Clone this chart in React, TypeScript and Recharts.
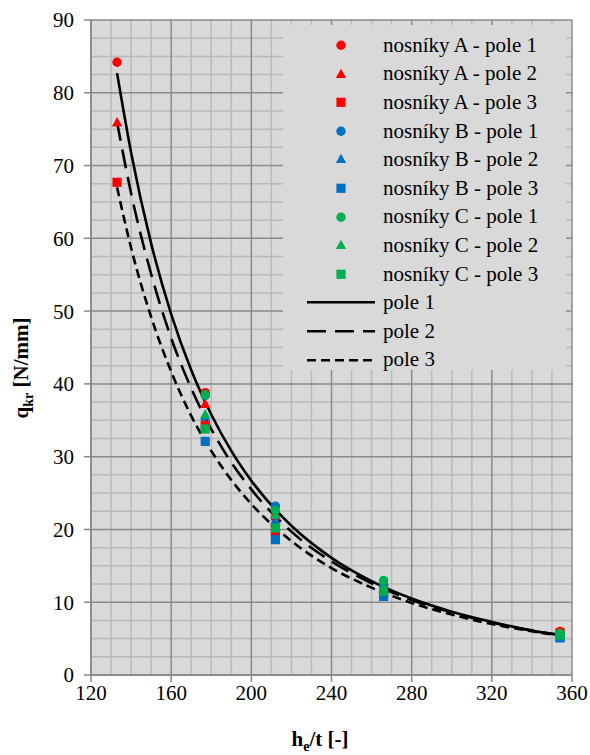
import React from "react";
import {
  ComposedChart,
  Scatter,
  Line,
  XAxis,
  YAxis,
  CartesianGrid,
  ReferenceLine,
  Legend,
  Label,
} from "recharts";

// h_e/t positions of the measured beams
const hA = [133, 177, 212, 266, 354];
const hBC = [177, 212, 266, 354];

// q_kr [N/mm]
const aPole1 = [84.2, 38.8, 21.6, 12.2, 6.0];
const aPole2 = [75.9, 37.2, 21.0, 11.8, 5.9];
const aPole3 = [67.7, 34.3, 19.8, 11.2, 5.8];
const bPole1 = [38.4, 23.2, 12.4, 5.3];
const bPole2 = [35.5, 21.2, 11.6, 5.2];
const bPole3 = [32.1, 18.6, 10.8, 5.1];
const cPole1 = [38.5, 22.6, 13.0, 5.7];
const cPole2 = [35.8, 22.0, 12.0, 5.6];
const cPole3 = [33.8, 20.2, 11.5, 5.5];

// trend curves
const fitX = [133, 140, 150, 160, 170, 180, 190, 200, 220, 240, 260, 280, 300, 320, 340, 354];
const fitPole1 = [82.7, 71.8, 59.3, 49.6, 41.9, 35.8, 30.8, 26.7, 20.5, 16.1, 12.9, 10.5, 8.7, 7.3, 6.1, 5.5];
const fitPole2 = [76.0, 66.2, 55.1, 46.3, 39.4, 33.8, 29.2, 25.5, 19.7, 15.6, 12.6, 10.3, 8.6, 7.2, 6.1, 5.5];
const fitPole3 = [67.0, 58.7, 49.2, 41.7, 35.6, 30.8, 26.8, 23.5, 18.4, 14.7, 12.0, 9.9, 8.3, 7.0, 6.0, 5.4];

const xTicks = [120, 160, 200, 240, 280, 320, 360];
const yTicks = [0, 10, 20, 30, 40, 50, 60, 70, 80, 90];
const xMinor = [130, 140, 150, 170, 180, 190, 210, 220, 230, 250, 260, 270, 290, 300, 310, 330, 340, 350];
const yMinor = [
  2.5, 5, 7.5, 12.5, 15, 17.5, 22.5, 25, 27.5, 32.5, 35, 37.5, 42.5, 45, 47.5,
  52.5, 55, 57.5, 62.5, 65, 67.5, 72.5, 75, 77.5, 82.5, 85, 87.5,
];

const RED = "#ff0000";
const BLUE = "#0070c0";
const GREEN = "#00b050";
const FONT = "Liberation Serif";

const toPts = (xs: number[], ys: number[]) => xs.map((x, i) => ({ x, y: ys[i] }));

const markers = [
  { name: "nosníky A - pole 1", color: RED, shape: "circle", data: toPts(hA, aPole1) },
  { name: "nosníky A - pole 2", color: RED, shape: "triangle", data: toPts(hA, aPole2) },
  { name: "nosníky A - pole 3", color: RED, shape: "square", data: toPts(hA, aPole3) },
  { name: "nosníky B - pole 1", color: BLUE, shape: "circle", data: toPts(hBC, bPole1) },
  { name: "nosníky B - pole 2", color: BLUE, shape: "triangle", data: toPts(hBC, bPole2) },
  { name: "nosníky B - pole 3", color: BLUE, shape: "square", data: toPts(hBC, bPole3) },
  { name: "nosníky C - pole 1", color: GREEN, shape: "circle", data: toPts(hBC, cPole1) },
  { name: "nosníky C - pole 2", color: GREEN, shape: "triangle", data: toPts(hBC, cPole2) },
  { name: "nosníky C - pole 3", color: GREEN, shape: "square", data: toPts(hBC, cPole3) },
];

const curves = [
  { name: "pole 1", dash: undefined, data: toPts(fitX, fitPole1) },
  { name: "pole 2", dash: "19 9", data: toPts(fitX, fitPole2) },
  { name: "pole 3", dash: "9 5", data: toPts(fitX, fitPole3) },
];

function Marker({ shape, color, cx, cy }: { shape: string; color: string; cx: number; cy: number }) {
  if (shape === "circle") return <circle cx={cx} cy={cy} r={4.7} fill={color} />;
  if (shape === "square") return <rect x={cx - 4.6} y={cy - 4.6} width={9.2} height={9.2} fill={color} />;
  return (
    <polygon
      points={`${cx},${cy - 5.5} ${cx + 5.2},${cy + 3.8} ${cx - 5.2},${cy + 3.8}`}
      fill={color}
    />
  );
}

function LegendBox() {
  const rowH = 28.6;
  return (
    <div
      style={{
        background: "#d9d9d9",
        width: 283,
        height: 345,
        paddingTop: 6,
        boxSizing: "border-box",
        fontFamily: FONT,
        fontSize: 21,
        color: "#000",
      }}
    >
      {markers.map((m) => (
        <div key={m.name} style={{ height: rowH, display: "flex", alignItems: "center" }}>
          <svg width={100} height={rowH}>
            <Marker shape={m.shape} color={m.color} cx={58} cy={rowH / 2} />
          </svg>
          <span style={{ lineHeight: 1 }}>{m.name}</span>
        </div>
      ))}
      {curves.map((c) => (
        <div key={c.name} style={{ height: rowH, display: "flex", alignItems: "center" }}>
          <svg width={100} height={rowH}>
            <line
              x1={24}
              x2={92}
              y1={rowH / 2}
              y2={rowH / 2}
              stroke="#000"
              strokeWidth={2.6}
              strokeDasharray={c.dash}
            />
          </svg>
          <span style={{ lineHeight: 1 }}>{c.name}</span>
        </div>
      ))}
    </div>
  );
}

export default function App() {
  const tickStyle = { fill: "#000", fontSize: 21, fontFamily: FONT };
  return (
    <div style={{ position: "absolute", left: 0, top: 0, background: "#fff", fontFamily: FONT }}>
      <ComposedChart width={590} height={755} margin={{ top: 20, right: 18, bottom: 0, left: 0 }}>
        <CartesianGrid horizontal={false} vertical={false} fill="#d9d9d9" />
        <XAxis
          type="number"
          dataKey="x"
          domain={[120, 360]}
          ticks={xTicks}
          allowDataOverflow
          height={80}
          tick={tickStyle}
          tickSize={7}
          tickMargin={3}
          stroke="#868686"
          strokeWidth={1.5}
        >
          <Label
            content={() => (
              <text x={320} y={746} textAnchor="middle" fontFamily={FONT} fontWeight="bold" fontSize={21} fill="#000">
                h
                <tspan fontSize={14} dy={5}>e</tspan>
                <tspan dy={-5}>/t [-]</tspan>
              </text>
            )}
          />
        </XAxis>
        <YAxis
          type="number"
          dataKey="y"
          domain={[0, 90]}
          ticks={yTicks}
          allowDataOverflow
          width={91}
          tick={tickStyle}
          tickSize={7}
          tickMargin={10}
          stroke="#868686"
          strokeWidth={1.5}
        >
          <Label
            content={() => (
              <text
                x={28}
                y={368}
                transform="rotate(-90 28 368)"
                textAnchor="middle"
                fontFamily={FONT}
                fontWeight="bold"
                fontSize={21}
                fill="#000"
              >
                q
                <tspan fontSize={14} dy={5}>kr</tspan>
                <tspan dy={-5}> [N/mm]</tspan>
              </text>
            )}
          />
        </YAxis>
        {xMinor.map((v) => (
          <ReferenceLine key={"xm" + v} x={v} stroke="#b9b9b9" strokeWidth={1.5} />
        ))}
        {yMinor.map((v) => (
          <ReferenceLine key={"ym" + v} y={v} stroke="#b9b9b9" strokeWidth={1.5} />
        ))}
        {xTicks.map((v) => (
          <ReferenceLine key={"xM" + v} x={v} stroke="#8a8a8a" strokeWidth={1.5} />
        ))}
        {yTicks.map((v) => (
          <ReferenceLine key={"yM" + v} y={v} stroke="#8a8a8a" strokeWidth={1.5} />
        ))}
        {markers.map((m) => (
          <Scatter
            key={m.name}
            name={m.name}
            data={m.data}
            isAnimationActive={false}
            shape={(p: any) => <Marker shape={m.shape} color={m.color} cx={p.cx} cy={p.cy} />}
          />
        ))}
        {curves.map((c) => (
          <Line
            key={c.name}
            name={c.name}
            data={c.data}
            dataKey="y"
            type="monotone"
            stroke="#000"
            strokeWidth={2.6}
            strokeDasharray={c.dash}
            dot={false}
            activeDot={false}
            isAnimationActive={false}
          />
        ))}
        <Legend
          layout="horizontal"
          verticalAlign="middle"
          align="center"
          wrapperStyle={{ left: 283, top: 25, width: 283, height: 345 }}
          content={() => <LegendBox />}
        />
      </ComposedChart>
    </div>
  );
}
